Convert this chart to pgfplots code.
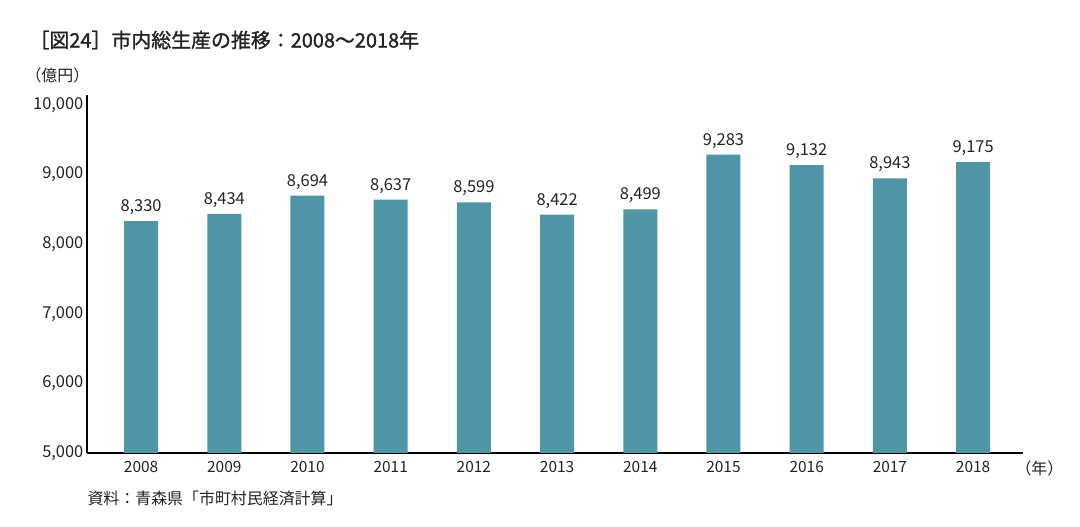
\documentclass[border=0pt]{standalone}
\usepackage{pgfplots}
\pgfplotsset{compat=1.18}
\usepackage{fontspec}
\setmainfont{Noto Sans CJK JP}
\newfontfamily\titlefont[FakeBold=1.3]{Noto Sans CJK JP}
\definecolor{barteal}{HTML}{4F95A8}
\definecolor{txt}{HTML}{222222}
\begin{document}
\begin{tikzpicture}[x=1bp,y=1bp]
\useasboundingbox (0,0) rectangle (1080,527);
\begin{axis}[
  at={(87bp,74bp)}, anchor=south west,
  scale only axis, width=936bp, height=358bp,
  xmin=-0.65, xmax=10.6, ymin=5000, ymax=10140,
  axis x line=bottom, axis y line=left,
  axis line style={-, black, line width=1.1pt},
  xtick=data,
  xticklabels={2008,2009,2010,2011,2012,2013,2014,2015,2016,2017,2018},
  ytick={5000,6000,7000,8000,9000,10000},
  tick style={draw=none},
  /pgf/number format/assume math mode=true,
  /pgf/number format/1000 sep={,},
  scaled y ticks=false,
  yticklabel style={font=\fontsize{16.5}{18}\selectfont, text=txt, xshift=2bp},
  xticklabel style={font=\fontsize{15.5}{18}\selectfont, text=txt, yshift=-3bp},
  nodes near coords,
  every node near coord/.append style={font=\fontsize{16.5}{18}\selectfont, text=txt, yshift=3bp,
    /pgf/number format/1000 sep={,}, /pgf/number format/assume math mode=true},
  clip=false,
]
\addplot[ybar, bar width=34bp, fill=barteal, draw=none, bar shift=0pt] coordinates {
  (0,8330) (1,8434) (2,8694) (3,8637) (4,8599) (5,8422) (6,8499) (7,9283) (8,9132) (9,8943) (10,9175)
};
\end{axis}
\node[anchor=west, text=txt, font=\titlefont\fontsize{20}{22}\selectfont] at (26,487) {［図24］市内総生産の推移：2008～2018年};
\node[anchor=west, text=txt, font=\fontsize{16}{18}\selectfont] at (22,452) {（億円）};
\node[anchor=west, text=txt, font=\fontsize{16}{18}\selectfont] at (1012,59) {（年）};
\node[anchor=west, text=txt, font=\fontsize{16}{18}\selectfont] at (84,29) {資料：青森県「市町村民経済計算」};
\end{tikzpicture}
\end{document}
